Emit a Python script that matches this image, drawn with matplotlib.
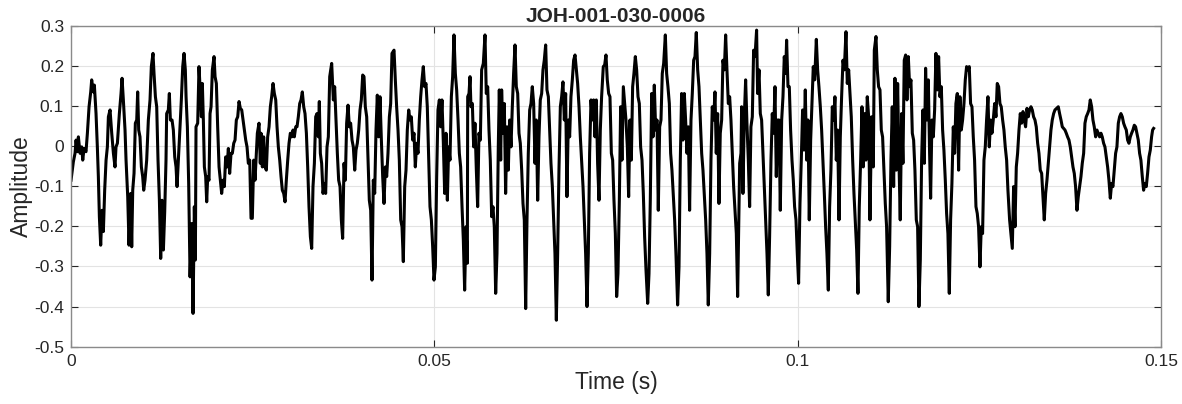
import matplotlib
matplotlib.use("Agg")
from matplotlib import pyplot as plt

# waveform, time in ms, amplitude in signal units
seg1_t = [0.00, 0.32, 0.55, 0.69, 0.87, 1.01, 1.24, 1.47, 1.61, 1.79, 2.06, 2.25, 2.48, 2.71, 2.84, 3.07,
          3.21, 3.44, 3.62, 3.76, 3.90, 4.08, 4.27, 4.45, 4.63, 4.82, 5.00, 5.14, 5.37, 5.60, 5.83, 6.05,
          6.19, 6.38, 6.65, 6.88, 7.02, 7.20, 7.43, 7.57, 7.80, 7.98, 8.21, 8.35, 8.49, 8.67, 8.85, 9.04,
          9.17, 9.31, 9.49, 9.68, 9.86, 10.00, 10.18, 10.41, 10.64, 10.87, 11.05, 11.28, 11.42, 11.61,
          11.79, 11.97, 12.16, 12.34, 12.52, 12.71, 12.89, 13.07, 13.16, 13.39, 13.53, 13.67, 13.90, 14.08,
          14.27, 14.45, 14.59, 14.77, 15.00, 15.18, 15.37, 15.55, 15.73, 15.83, 16.01, 16.19, 16.38, 16.61,
          16.79, 16.97, 17.11]
seg1_a = [-0.085, -0.039, -0.018, 0.015, -0.014, 0.023, -0.018, -0.002, -0.035, -0.006, -0.014, 0.032,
          0.098, 0.135, 0.165, 0.135, 0.152, 0.081, -0.002, -0.076, -0.176, -0.247, -0.160, -0.213, -0.110,
          -0.035, -0.002, 0.073, 0.090, 0.032, -0.018, -0.052, -0.002, 0.007, 0.081, 0.131, 0.169, 0.115,
          0.040, -0.035, -0.126, -0.247, -0.118, -0.251, -0.110, -0.068, 0.057, 0.065, 0.135, 0.040, 0.023,
          -0.052, -0.076, -0.110, -0.085, -0.035, 0.065, 0.115, 0.198, 0.231, 0.181, 0.123, 0.098, -0.035,
          -0.135, -0.280, -0.135, -0.259, -0.164, -0.035, 0.081, 0.090, 0.131, 0.065, 0.065, 0.040, -0.027,
          -0.052, -0.101, -0.035, 0.048, 0.115, 0.198, 0.231, 0.190, 0.123, 0.048, -0.093, -0.326, -0.193,
          -0.417, -0.151, -0.284]

seg2_t = [17.20, 17.43, 17.61, 17.80, 17.94, 18.07, 18.21, 18.35, 18.53, 18.67, 18.81, 18.99, 19.13, 19.27,
          19.45, 19.68, 19.82, 20.00, 20.18, 20.37, 20.55, 20.73, 20.92, 21.10, 21.28, 21.47, 21.65, 21.83,
          22.02, 22.20, 22.39, 22.57, 22.75, 22.94, 23.12, 23.30, 23.49, 23.67, 23.85, 24.04, 24.22, 24.40,
          24.59, 24.77, 24.95, 25.14, 25.32, 25.50, 25.64, 25.87, 26.05, 26.15, 26.33, 26.51, 26.70, 26.88,
          27.06, 27.25, 27.43, 27.61, 27.80, 27.98, 28.17, 28.35, 28.53, 28.72, 28.90, 29.08, 29.27, 29.45,
          29.63, 29.82, 30.00, 30.18, 30.37, 30.55, 30.73, 30.92, 31.10, 31.28, 31.47, 31.65, 31.83, 32.02,
          32.20, 32.39, 32.57, 32.75, 32.94, 33.12, 33.30, 33.49, 33.67, 33.85, 34.04, 34.17, 34.31, 34.49,
          34.68, 34.86, 35.04, 35.23, 35.41, 35.60, 35.87]
seg2_a = [0.048, 0.057, 0.198, 0.131, 0.073, 0.156, 0.065, -0.052, -0.076, -0.139, -0.076, -0.085, 0.081,
          0.098, 0.190, 0.223, 0.173, 0.156, 0.048, -0.052, -0.085, -0.118, -0.085, -0.101, -0.027, -0.052,
          -0.006, -0.068, -0.018, -0.018, 0.007, 0.015, 0.065, 0.073, 0.111, 0.094, 0.090, 0.065, 0.040,
          0.015, -0.002, -0.043, -0.035, -0.180, -0.180, -0.035, -0.085, -0.018, 0.032, 0.057, -0.043, 0.032,
          -0.052, 0.023, -0.052, -0.060, 0.023, 0.048, 0.098, 0.123, 0.156, 0.131, 0.115, 0.048, -0.002,
          -0.035, -0.076, -0.110, -0.118, -0.139, -0.085, -0.035, 0.007, 0.032, 0.023, 0.040, 0.023, 0.048,
          0.048, 0.073, 0.106, 0.115, 0.135, 0.098, 0.081, 0.032, -0.052, -0.151, -0.226, -0.255, -0.101,
          -0.043, 0.073, 0.081, 0.023, 0.111, -0.018, -0.043, -0.118, -0.093, -0.118, -0.002, 0.023, 0.173,
          0.206]

seg3_t = [36.10, 36.28, 36.47, 36.65, 36.83, 37.02, 37.20, 37.38, 37.57, 37.75, 37.93, 38.12, 38.30, 38.48,
          38.67, 38.85, 39.04, 39.22, 39.40, 39.59, 39.77, 39.95, 40.14, 40.32, 40.50, 40.69, 40.87, 41.05,
          41.24, 41.42, 41.60, 41.79, 41.97, 42.15, 42.34, 42.52, 42.71, 42.89, 43.07, 43.26, 43.44, 43.62,
          43.81, 43.99, 44.17, 44.45, 44.63, 44.81, 45.00, 45.18, 45.37, 45.55, 45.73, 45.92, 46.10, 46.28,
          46.47, 46.65, 46.83, 47.02, 47.20, 47.38, 47.57, 47.75, 47.93, 48.12, 48.30, 48.48, 48.67, 48.85,
          49.03, 49.22, 49.40, 49.59, 49.77, 49.95, 50.14, 50.32, 50.50, 50.69, 50.87, 51.05, 51.24, 51.42,
          51.60, 51.79, 51.97, 52.15, 52.34, 52.52, 52.70, 52.89, 53.07, 53.26, 53.44, 53.62, 53.81, 53.99,
          54.17, 54.36, 54.54]
seg3_a = [0.115, 0.148, 0.065, -0.018, -0.085, -0.101, -0.184, -0.230, -0.043, -0.085, 0.057, 0.102, 0.048,
          0.057, 0.015, -0.002, -0.060, -0.010, 0.007, 0.040, 0.090, 0.115, 0.177, 0.173, 0.098, 0.073,
          -0.035, -0.135, -0.160, -0.334, -0.085, -0.118, 0.040, 0.127, 0.023, 0.123, 0.015, -0.076, -0.143,
          -0.052, -0.076, -0.018, 0.073, 0.106, 0.231, 0.239, 0.165, 0.098, 0.040, -0.035, -0.184, -0.201,
          -0.288, -0.101, -0.060, 0.040, 0.090, 0.065, 0.073, 0.015, 0.032, -0.052, 0.007, -0.018, 0.065,
          0.123, 0.165, 0.198, 0.148, 0.156, 0.098, -0.035, -0.151, -0.184, -0.251, -0.334, -0.301, -0.076,
          0.090, 0.115, 0.048, 0.115, 0.007, -0.118, 0.032, -0.135, -0.002, -0.035, 0.123, 0.173, 0.277,
          0.181, 0.140, 0.065, -0.018, -0.052, -0.151, -0.234, -0.359, -0.201, -0.292]

seg4_t = [54.59, 54.77, 54.91, 55.04, 55.23, 55.41, 55.59, 55.78, 55.96, 56.14, 56.33, 56.51, 56.74, 56.97,
          57.15, 57.34, 57.52, 57.70, 57.89, 58.07, 58.25, 58.44, 58.62, 58.80, 58.94, 59.13, 59.26, 59.45,
          59.63, 59.81, 60.00, 60.18, 60.36, 60.55, 60.73, 60.91, 61.10, 61.28, 61.47, 61.65, 61.83, 62.02,
          62.20, 62.38, 62.57, 62.75, 62.93, 63.12, 63.30, 63.48, 63.67, 63.85, 64.03, 64.22, 64.40, 64.58,
          64.77, 64.95, 65.13, 65.32, 65.50, 65.69, 65.87, 66.05, 66.24, 66.42, 66.60, 66.79, 66.97, 67.15,
          67.34, 67.52, 67.70, 67.89, 68.07, 68.25, 68.44, 68.62, 68.80, 68.99, 69.17, 69.36, 69.54, 69.72,
          69.91, 70.09, 70.27, 70.46, 70.64, 70.82, 71.01, 71.19, 71.37, 71.56, 71.74, 71.92, 72.11, 72.29,
          72.47, 72.66, 72.84, 73.02]
seg4_a = [0.123, 0.131, 0.173, 0.098, 0.106, -0.002, 0.057, -0.060, -0.151, 0.032, 0.015, 0.190, 0.206,
          0.277, 0.131, 0.148, 0.040, -0.035, -0.176, -0.151, -0.201, -0.367, -0.268, -0.002, 0.140, -0.035,
          0.140, 0.032, 0.106, -0.118, 0.048, -0.060, 0.065, -0.002, 0.098, 0.181, 0.252, 0.148, 0.131, 0.032,
          0.007, -0.060, -0.143, -0.184, -0.405, -0.184, -0.018, 0.090, 0.106, 0.148, 0.106, -0.043, 0.065,
          -0.135, 0.023, 0.115, 0.131, 0.190, 0.214, 0.252, 0.140, 0.123, 0.040, -0.043, -0.101, -0.184,
          -0.268, -0.434, -0.268, -0.060, 0.098, 0.123, 0.160, 0.065, 0.131, -0.126, 0.065, 0.023, 0.123,
          0.165, 0.214, 0.227, 0.190, 0.156, 0.098, 0.023, -0.035, -0.101, -0.184, -0.268, -0.400, -0.268,
          -0.018, 0.115, 0.065, 0.115, 0.023, 0.115, -0.043, -0.135, 0.040, 0.123]

seg5_t = [73.25, 73.44, 73.62, 73.80, 73.99, 74.17, 74.36, 74.54, 74.72, 74.91, 75.09, 75.27, 75.46, 75.64,
          75.82, 76.01, 76.19, 76.37, 76.56, 76.74, 76.92, 77.11, 77.29, 77.47, 77.66, 77.84, 78.03, 78.21,
          78.39, 78.58, 78.76, 78.94, 79.13, 79.36, 79.54, 79.72, 79.91, 80.09, 80.27, 80.46, 80.64, 80.82,
          81.01, 81.19, 81.37, 81.56, 81.79, 81.97, 82.15, 82.34, 82.52, 82.70, 82.89, 83.07, 83.25, 83.48,
          83.67, 83.85, 84.03, 84.22, 84.40, 84.58, 84.77, 84.95, 85.13, 85.32, 85.50, 85.69, 85.87, 86.05,
          86.24, 86.42, 86.60, 86.79, 86.97, 87.15, 87.34, 87.52, 87.70, 87.89, 88.07, 88.25, 88.44, 88.62,
          88.80, 88.99, 89.17, 89.35, 89.54, 89.72, 89.91, 90.09, 90.27, 90.46, 90.64, 90.82, 91.01, 91.19,
          91.37, 91.56, 91.74]
seg5_a = [0.198, 0.202, 0.227, 0.165, 0.131, 0.123, -0.018, -0.035, -0.135, -0.218, -0.375, -0.318, -0.135,
          0.098, -0.035, 0.148, 0.106, 0.065, -0.002, -0.126, 0.065, -0.035, 0.148, 0.181, 0.223, 0.190,
          0.123, 0.106, -0.002, -0.035, -0.118, -0.226, -0.309, -0.392, -0.318, -0.135, 0.131, 0.023, 0.152,
          0.040, 0.065, -0.160, 0.048, 0.065, 0.181, 0.206, 0.277, 0.181, 0.148, 0.106, -0.018, -0.060,
          -0.126, -0.184, -0.268, -0.396, -0.301, -0.035, 0.131, 0.015, 0.131, 0.065, -0.018, 0.048, -0.160,
          0.065, 0.131, 0.214, 0.223, 0.283, 0.190, 0.148, 0.065, -0.018, -0.060, -0.118, -0.184, -0.268,
          -0.396, -0.268, -0.035, 0.098, 0.065, 0.135, -0.018, 0.081, -0.143, 0.032, 0.065, 0.214, 0.190,
          0.277, 0.190, 0.106, 0.123, 0.065, -0.018, -0.101, -0.160, -0.218, -0.375]

seg6_t = [92.02, 92.20, 92.29, 92.47, 92.66, 92.84, 93.02, 93.21, 93.39, 93.57, 93.76, 93.94, 94.13, 94.35,
          94.49, 94.68, 94.86, 95.04, 95.23, 95.41, 95.59, 95.78, 95.96, 96.14, 96.33, 96.51, 96.69, 96.88,
          97.06, 97.24, 97.43, 97.61, 97.80, 97.98, 98.16, 98.35, 98.48, 98.67, 98.85, 99.03, 99.22, 99.40,
          99.58, 99.77, 99.95, 100.13, 100.32, 100.50, 100.68, 100.87, 101.05, 101.24, 101.42, 101.60,
          101.79, 101.97, 102.15, 102.34, 102.57, 102.75, 102.93, 103.12, 103.30, 103.48, 103.67, 103.85,
          104.03, 104.22, 104.40, 104.58, 104.77, 104.95, 105.13, 105.32, 105.50, 105.69, 105.87, 106.05,
          106.24, 106.42, 106.65, 106.83, 107.02, 107.20, 107.38, 107.57, 107.75, 107.93, 108.12, 108.30,
          108.48, 108.67, 108.85, 109.03, 109.22, 109.40, 109.58, 109.77, 109.95]
seg6_a = [-0.043, -0.018, 0.098, -0.118, 0.073, 0.165, 0.057, -0.035, -0.151, 0.048, 0.073, 0.239, 0.223,
          0.289, 0.131, 0.190, 0.081, 0.065, -0.018, -0.101, -0.184, -0.268, -0.371, -0.226, -0.035, 0.081,
          0.032, 0.148, -0.076, 0.065, 0.065, -0.160, 0.065, 0.123, 0.223, 0.181, 0.264, 0.148, 0.148, 0.040,
          -0.035, -0.085, -0.151, -0.184, -0.268, -0.342, -0.143, -0.035, 0.090, -0.010, 0.140, -0.035, 0.065,
          -0.184, 0.015, 0.106, 0.198, 0.165, 0.266, 0.190, 0.148, 0.098, 0.040, -0.035, -0.118, -0.201,
          -0.268, -0.359, -0.151, -0.060, 0.098, 0.065, 0.123, -0.035, 0.040, -0.184, 0.023, 0.123, 0.214,
          0.190, 0.285, 0.156, 0.190, 0.131, 0.073, -0.035, -0.118, -0.184, -0.259, -0.367, -0.151, -0.035,
          0.098, -0.052, 0.081, -0.035, 0.123, 0.073, -0.184]

seg7_t = [110.18, 110.41, 110.55, 110.78, 110.96, 111.14, 111.33, 111.51, 111.69, 111.88, 112.06, 112.24,
          112.47, 112.66, 112.84, 113.02, 113.21, 113.39, 113.57, 113.76, 113.94, 114.12, 114.31, 114.49,
          114.67, 114.86, 115.04, 115.23, 115.41, 115.59, 115.78, 115.96, 116.14, 116.33, 116.51, 116.69,
          116.88, 117.06, 117.24, 117.43, 117.61, 117.79, 117.98, 118.16, 118.30, 118.48, 118.67, 118.85,
          119.03, 119.22, 119.40, 119.58, 119.77, 119.95, 120.13, 120.32, 120.50, 120.68, 120.87, 121.05,
          121.23, 121.42, 121.60, 121.78, 121.97, 122.15, 122.33, 122.52, 122.70, 122.89, 123.07, 123.25,
          123.44, 123.62, 123.80, 123.99, 124.17, 124.35, 124.54, 124.72, 124.90, 125.09, 125.27, 125.45,
          125.64, 125.82, 126.00, 126.19, 126.37, 126.56, 126.74, 126.92, 127.11, 127.29, 127.47, 127.66,
          127.84, 128.02, 128.21, 128.39, 128.57, 128.76, 128.94, 129.17]
seg7_a = [0.073, -0.052, 0.239, 0.273, 0.190, 0.148, 0.140, 0.040, 0.023, -0.060, -0.143, -0.201, -0.388,
          -0.251, -0.035, 0.098, -0.101, 0.169, -0.060, 0.156, -0.035, -0.184, 0.081, -0.043, 0.214, 0.227,
          0.115, 0.223, 0.148, 0.165, 0.032, 0.015, -0.060, -0.184, -0.201, -0.400, -0.284, -0.035, 0.090,
          -0.043, 0.194, 0.065, 0.165, -0.018, -0.130, 0.065, 0.023, 0.090, 0.231, 0.140, 0.223, 0.123, 0.148,
          0.040, -0.010, -0.085, -0.168, -0.218, -0.367, -0.184, -0.093, 0.048, -0.018, 0.106, 0.131, -0.060,
          0.123, 0.040, 0.065, 0.106, 0.165, 0.198, 0.190, 0.198, 0.106, 0.098, 0.023, -0.035, -0.151, -0.168,
          -0.201, -0.301, -0.201, -0.218, -0.035, -0.002, 0.065, 0.123, -0.002, 0.065, 0.032, 0.065, 0.106,
          0.073, 0.156, 0.148, 0.106, 0.098, 0.065, 0.040, -0.002, -0.035, -0.110, -0.184]

seg8_t = [129.54, 129.72, 129.91, 130.09, 130.27, 130.46, 130.64, 130.82, 131.01, 131.19, 131.37, 131.56,
          131.74, 131.92, 132.11, 132.29, 132.47, 132.66, 132.84, 133.03, 133.21, 133.39, 133.58, 133.76,
          133.94, 134.13, 134.31, 134.49, 134.68, 134.86, 135.04, 135.23, 135.41, 135.64, 135.87, 136.05,
          136.24, 136.42, 136.60, 136.79, 136.97, 137.15, 137.34, 137.52, 137.70, 137.89, 138.07, 138.25,
          138.44, 138.62, 138.80, 138.99, 139.17, 139.36, 139.54, 139.72, 139.91, 140.09, 140.27, 140.46,
          140.64, 140.82, 141.01, 141.19, 141.37, 141.56, 141.74, 141.92, 142.11, 142.29, 142.47, 142.66,
          142.84, 143.03, 143.21, 143.39, 143.58, 143.76, 143.94, 144.13, 144.31, 144.49, 144.68, 144.86,
          145.04, 145.23, 145.41, 145.59, 145.78, 145.96, 146.14, 146.33, 146.51, 146.69, 146.88, 147.06,
          147.24, 147.43, 147.61, 147.80, 147.98, 148.16, 148.35, 148.53, 148.71, 148.85, 148.99]
seg8_a = [-0.255, -0.101, -0.201, -0.052, -0.018, 0.040, 0.081, 0.057, 0.086, 0.065, 0.048, 0.094, 0.073,
          0.090, 0.098, 0.090, 0.073, 0.065, 0.048, 0.007, -0.018, -0.060, -0.068, -0.126, -0.184, -0.118,
          -0.085, -0.043, -0.002, 0.040, 0.065, 0.081, 0.090, 0.094, 0.098, 0.081, 0.065, 0.048, 0.044, 0.040,
          0.032, 0.023, 0.015, -0.002, -0.027, -0.052, -0.068, -0.101, -0.160, -0.126, -0.101, -0.076, -0.043,
          -0.018, 0.057, 0.073, 0.081, 0.090, 0.115, 0.098, 0.065, 0.048, 0.023, 0.040, 0.032, 0.023, 0.032,
          0.023, 0.007, -0.002, -0.027, -0.052, -0.085, -0.130, -0.093, -0.101, -0.060, -0.018, -0.002, 0.057,
          0.073, 0.081, 0.073, 0.057, 0.048, 0.040, 0.015, 0.007, 0.023, 0.032, 0.040, 0.052, 0.048, 0.032,
          0.015, -0.018, -0.035, -0.076, -0.110, -0.093, -0.101, -0.068, -0.027, -0.010, 0.023, 0.040, 0.044]

x_ticks = [0, 0.05, 0.1, 0.15]
x_labels = ["0", "0.05", "0.1", "0.15"]
y_ticks = [-0.5, -0.4, -0.3, -0.2, -0.1, 0, 0.1, 0.2, 0.3]
y_labels = ["-0.5", "-0.4", "-0.3", "-0.2", "-0.1", "0", "0.1", "0.2", "0.3"]

t_ms = seg1_t + seg2_t + seg3_t + seg4_t + seg5_t + seg6_t + seg7_t + seg8_t
amp = seg1_a + seg2_a + seg3_a + seg4_a + seg5_a + seg6_a + seg7_a + seg8_a
t = [v / 1000 for v in t_ms]

plt.rcParams['font.family'] = ['Liberation Sans', 'DejaVu Sans']
plt.rcParams['axes.unicode_minus'] = False

fig = plt.figure(figsize=(11.82, 4.04), dpi=100)
ax = fig.add_axes([0.0601, 0.1418, 0.9221, 0.7946])

ax.plot(t, amp, color='black', linewidth=2.2, solid_joinstyle='round')

ax.set_xlim(0, 0.15)
ax.set_ylim(-0.5, 0.3)
ax.set_xticks(x_ticks)
ax.set_xticklabels(x_labels)
ax.set_yticks(y_ticks)
ax.set_yticklabels(y_labels)

ax.grid(True, color='#e3e3e3', linewidth=0.8)
ax.set_axisbelow(True)
ax.tick_params(direction='in', length=5, width=0.8, color='#262626', labelcolor='#262626',
               labelsize=12.5, top=True, right=True, pad=5)
for s in ax.spines.values():
    s.set_color('#8a8a8a')
    s.set_linewidth(1.0)

ax.set_xlabel('Time (s)', fontsize=16.5, color='#262626', labelpad=2)
ax.set_ylabel('Amplitude', fontsize=16.5, color='#262626', labelpad=1)
ax.set_title('JOH-001-030-0006', fontsize=15, fontweight='bold', color='#262626', pad=3)

fig.savefig('out.png', dpi=100)
